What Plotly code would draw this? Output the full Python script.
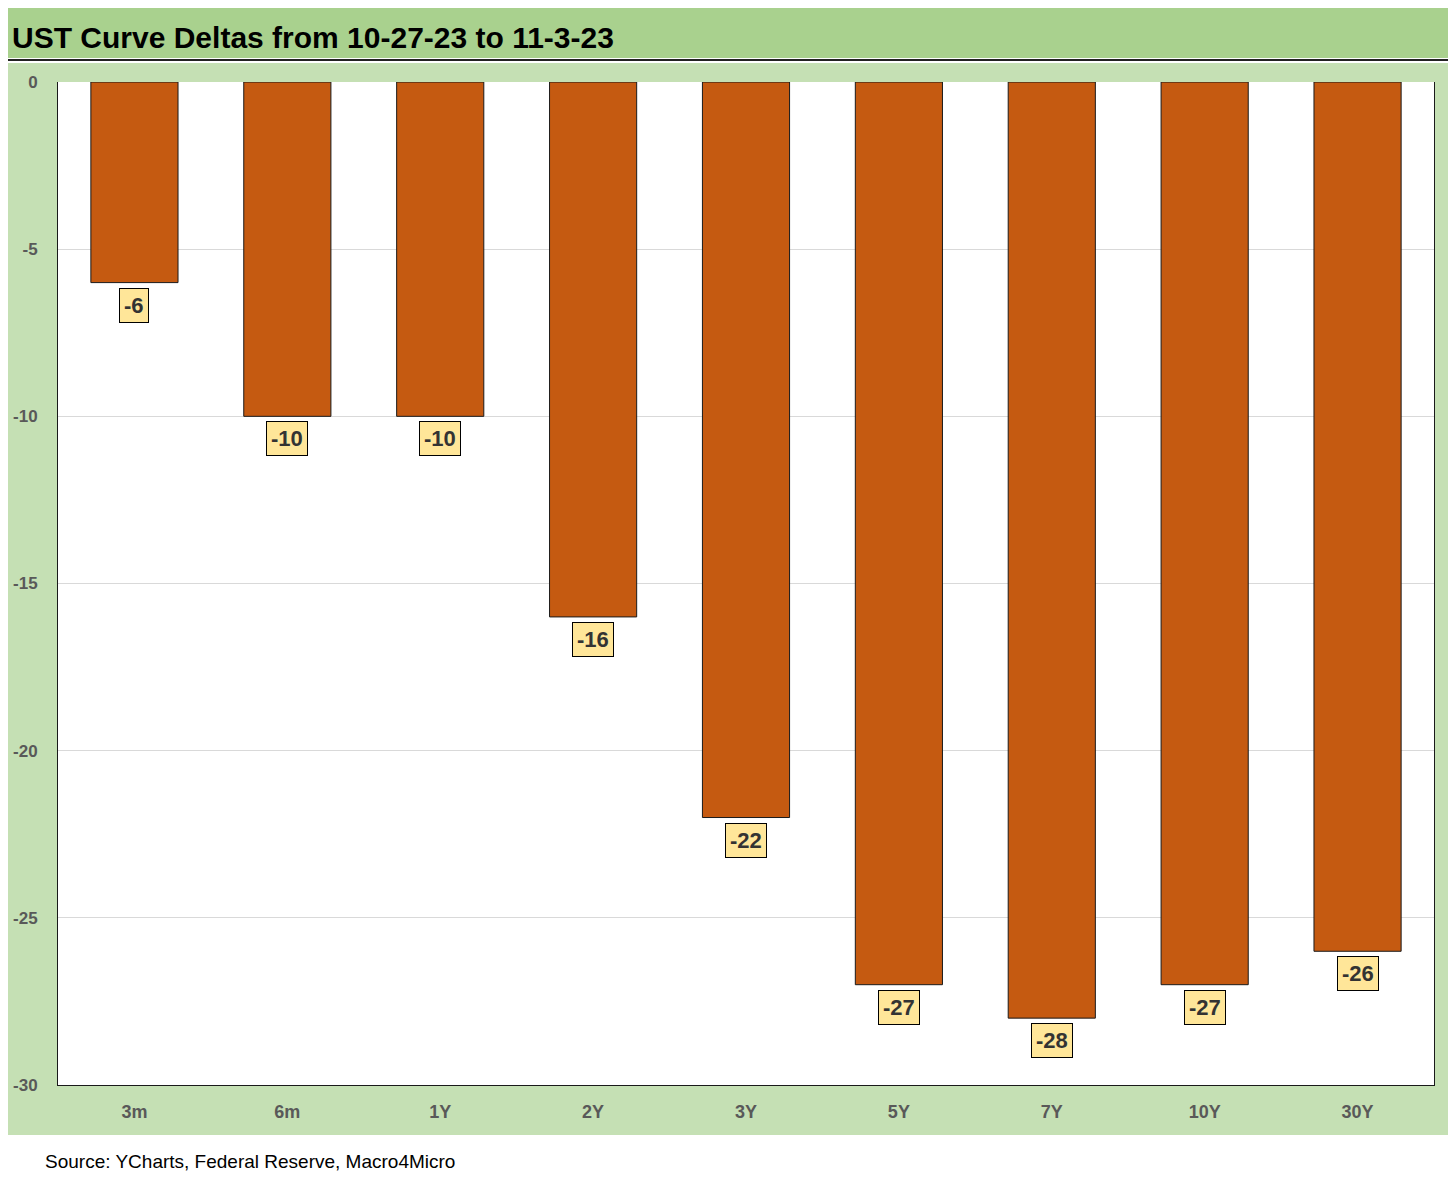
import plotly.graph_objects as go

categories = ["3m", "6m", "1Y", "2Y", "3Y", "5Y", "7Y", "10Y", "30Y"]
deltas = [-6, -10, -10, -16, -22, -27, -28, -27, -26]
y_ticks = [0, -5, -10, -15, -20, -25, -30]

OFF = 8  # page body margin added by the browser
W, H = 1456 - OFF, 1181 - OFF
L, R, T, B = 58 - OFF, 1434 - OFF, 82 - OFF, 1085 - OFF

def px(xp):
    return (xp - OFF - L) / (R - L)

def py(yp):
    return (B - (yp - OFF)) / (B - T)

fig = go.Figure()
fig.add_trace(go.Bar(
    x=categories, y=deltas,
    marker=dict(color="#c55a11", line=dict(color="#1a1a1a", width=1)),
    width=0.57,
    hoverinfo="x+y",
))

for c, v in zip(categories, deltas):
    fig.add_annotation(
        x=c, y=v, xref="x", yref="y",
        text=f"<b>{v}</b>", showarrow=False,
        yanchor="top", yshift=-5,
        font=dict(family="Liberation Sans, Arial", size=22, color="#333333"),
        bgcolor="#ffe699", bordercolor="#000000", borderwidth=1, borderpad=4,
    )

shapes = [
    dict(type="rect", xref="paper", yref="paper", x0=px(0), x1=px(1456), y0=py(58), y1=py(0),
         fillcolor="#a9d18e", line=dict(width=0), layer="below"),
    dict(type="line", xref="paper", yref="paper", x0=px(0), x1=px(1456), y0=py(60), y1=py(60),
         line=dict(color="#222222", width=2), layer="below"),
    dict(type="rect", xref="paper", yref="paper", x0=px(0), x1=px(1452), y0=py(1135), y1=py(63),
         fillcolor="#c5e0b4", line=dict(width=0), layer="below"),
    dict(type="rect", xref="paper", yref="paper", x0=0, x1=1, y0=0, y1=1,
         fillcolor="#ffffff", line=dict(width=0), layer="below"),
]
fig.update_layout(shapes=shapes)

fig.add_annotation(
    xref="paper", yref="paper", x=px(10), y=py(38), xanchor="left", yanchor="middle",
    text="<b>UST Curve Deltas from 10-27-23 to 11-3-23</b>", showarrow=False,
    font=dict(family="Liberation Sans Narrow, Arial Narrow, Liberation Sans", size=30, color="#000000"),
)
fig.add_annotation(
    xref="paper", yref="paper", x=px(43), y=py(1161), xanchor="left", yanchor="middle",
    text="Source: YCharts, Federal Reserve, Macro4Micro", showarrow=False,
    font=dict(family="Liberation Sans, Arial", size=19, color="#000000"),
)

fig.update_layout(
    width=W, height=H,
    margin=dict(l=L, r=W - R, t=T, b=H - B, pad=0, autoexpand=False),
    paper_bgcolor="#ffffff", plot_bgcolor="rgba(0,0,0,0)",
    showlegend=False, bargap=0.43,
    xaxis=dict(
        showgrid=False, showline=True, linecolor="#1a1a1a", linewidth=1,
        tickfont=dict(family="Liberation Sans, Arial", size=18, color="#595959"),
        ticks="", ticklabelstandoff=10, automargin=False,
        tickvals=categories, ticktext=[f"<b>{c}</b>" for c in categories],
    ),
    yaxis=dict(
        range=[-30, 0], tickvals=y_ticks, ticktext=[f"<b>{t}</b>" for t in y_ticks],
        showgrid=True, gridcolor="#d9d9d9", gridwidth=1,
        showline=True, mirror=True, linecolor="#1a1a1a", linewidth=1,
        zeroline=False, ticks="", ticklabelstandoff=16, automargin=False,
        tickfont=dict(family="Liberation Sans, Arial", size=17, color="#595959"),
    ),
)

fig.write_html("out.html")
